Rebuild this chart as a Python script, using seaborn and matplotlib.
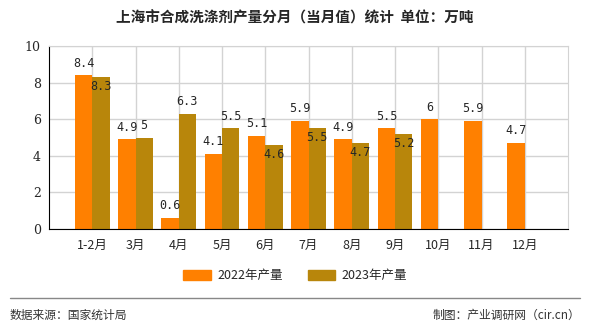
import matplotlib
matplotlib.use("Agg")
import matplotlib.pyplot as plt
import seaborn as sns
import pandas as pd
import numpy as np
from matplotlib.lines import Line2D

months = ["1-2月", "3月", "4月", "5月", "6月", "7月", "8月", "9月", "10月", "11月", "12月"]
y2022 = [8.4, 4.9, 0.6, 4.1, 5.1, 5.9, 4.9, 5.5, 6, 5.9, 4.7]
y2023 = [8.3, 5, 6.3, 5.5, 4.6, 5.5, 4.7, 5.2, None, None, None]
series = ["2022年产量", "2023年产量"]
colors = ["#FF8000", "#B8860B"]
title = "上海市合成洗涤剂产量分月（当月值）统计  单位：万吨"
source = "数据来源：国家统计局"
maker = "制图：产业调研网（cir.cn）"

df = pd.DataFrame({
    "月份": months * 2,
    "产量": [v for v in y2022] + [np.nan if v is None else v for v in y2023],
    "系列": [series[0]] * len(months) + [series[1]] * len(months),
})

sns.set_style("white")
plt.rcParams["font.family"] = ["Noto Sans CJK SC", "DejaVu Sans"]

fig = plt.figure(figsize=(5.9, 3.3), dpi=100)
ax = fig.add_axes([49/590, 1-229/330, (568-49)/590, (229-46)/330])

sns.barplot(data=df, x="月份", y="产量", hue="系列", order=months,
            hue_order=series, palette=colors, width=0.8, saturation=1,
            ax=ax, legend=False)
for c in ax.containers:
    for p in c:
        p.set_linewidth(0)

ax.set_xlim(-1, 11)
ax.set_ylim(0, 10)
ax.set_yticks([0, 2, 4, 6, 8, 10])
ax.set_xticks(range(len(months)))
ax.set_xticklabels(months, fontsize=9)
ax.set_xticks([-1, 11], minor=True)
ax.tick_params(axis="x", which="both", direction="out", length=4, width=1, color="black", pad=3)
ax.tick_params(axis="y", direction="out", length=4, width=1, color="black", labelsize=9, pad=2)
for lab in ax.get_yticklabels():
    lab.set_family(["DejaVu Serif"])
ax.set_xlabel("")
ax.set_ylabel("")
ax.grid(True, color="#d3d3d3", linewidth=1)
ax.set_axisbelow(True)
ax.spines["left"].set_color("black")
ax.spines["bottom"].set_color("black")
ax.spines["top"].set_color("#d3d3d3")
ax.spines["right"].set_color("#d3d3d3")

# data labels
c22, c23 = ax.containers[0], ax.containers[1]
for p, v in zip(c22, y2022):
    ax.annotate(f"{v:g}", (p.get_x() + p.get_width()/2, p.get_height()),
                xytext=(0, 4), textcoords="offset points", ha="center", va="bottom",
                fontsize=8.5, family=["DejaVu Sans Mono"])
for p, v, a in zip(c23, y2023, y2022):
    if v is None:
        continue
    below = a > v
    ax.annotate(f"{v:g}", (p.get_x() + p.get_width()/2, v),
                xytext=(0, -2 if below else 4), textcoords="offset points",
                ha="center", va="top" if below else "bottom",
                fontsize=8.5, family=["DejaVu Sans Mono"])

# title
fig.text(0.5, 1-18/330, title, ha="center", va="center", fontsize=10.5, fontweight="bold")

# legend
handles = [plt.Rectangle((0, 0), 1, 1, color=c) for c in colors]
fig.legend(handles, series, loc="center", bbox_to_anchor=(0.5, 1-276/330), ncol=2,
           frameon=False, fontsize=9, handlelength=2.2, handleheight=0.8,
           columnspacing=2.0, handletextpad=0.5)

# footer
fig.add_artist(Line2D([10/590, 580/590], [1-298/330, 1-298/330], color="#888888", linewidth=1))
fig.text(10/590, 1-315/330, source, ha="left", va="center", fontsize=8.5, color="#333333")
fig.text(580/590, 1-315/330, maker, ha="right", va="center", fontsize=8.5, color="#333333")

fig.savefig("out.png", dpi=100)
